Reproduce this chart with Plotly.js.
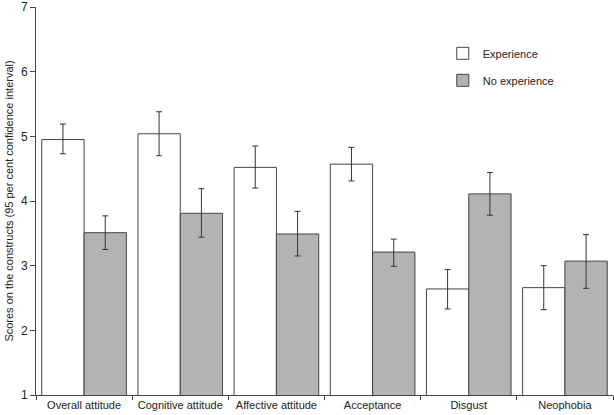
<!DOCTYPE html>
<html>
<head>
<meta charset="utf-8">
<script src="https://cdn.plot.ly/plotly-3.0.1.min.js"></script>
<style>html,body{margin:0;padding:0;background:#fff}#chart{width:614px;height:415px}</style>
</head>
<body>
<div id="chart"></div>
<script>
var categories = ["Overall attitude", "Cognitive attitude", "Affective attitude", "Acceptance", "Disgust", "Neophobia"];
var experience = [4.95, 5.04, 4.52, 4.57, 2.64, 2.66];
var experienceErrPlus = [0.24, 0.34, 0.33, 0.26, 0.30, 0.34];
var experienceErrMinus = [0.22, 0.34, 0.32, 0.26, 0.31, 0.34];
var noExperience = [3.51, 3.81, 3.49, 3.21, 4.11, 3.07];
var noExperienceErrPlus = [0.26, 0.38, 0.35, 0.20, 0.33, 0.41];
var noExperienceErrMinus = [0.26, 0.37, 0.34, 0.22, 0.33, 0.42];
var yTicks = [1, 2, 3, 4, 5, 6, 7];

var font = {family: "Liberation Sans, Arial, sans-serif", size: 11, color: "#222"};

var traces = [
  {
    type: "bar", name: "Experience", x: categories, y: experience,
    legendgroup: "a",
    marker: {color: "#ffffff", line: {color: "#444", width: 1}},
    error_y: {type: "data", array: experienceErrPlus, arrayminus: experienceErrMinus, color: "#333", thickness: 1, width: 3}
  },
  {
    type: "bar", name: "No experience", x: categories, y: noExperience,
    legendgroup: "b",
    marker: {color: "#b3b3b6", line: {color: "#444", width: 1}},
    error_y: {type: "data", array: noExperienceErrPlus, arrayminus: noExperienceErrMinus, color: "#333", thickness: 1, width: 3}
  }
];

var layout = {
  width: 614, height: 415,
  margin: {l: 36, r: 1, t: 7, b: 20},
  paper_bgcolor: "#fff", plot_bgcolor: "#fff",
  font: font,
  barmode: "group", bargap: 0.12, bargroupgap: 0,
  showlegend: true,
  legend: {
    x: 0.705, y: 0.918, xanchor: "left", yanchor: "top",
    traceorder: "grouped", tracegroupgap: 8,
    font: {family: font.family, size: 11, color: "#222"},
    bgcolor: "rgba(0,0,0,0)", itemwidth: 30
  },
  xaxis: {
    type: "category", range: [-0.5, 5.5],
    showline: true, linecolor: "#444", linewidth: 1,
    ticks: "outside", tickson: "boundaries", ticklen: 4, tickcolor: "#444",
    showgrid: false, zeroline: false, fixedrange: true,
    tickfont: font
  },
  yaxis: {
    range: [1, 7], tickvals: yTicks, ticktext: yTicks.map(String),
    showline: true, linecolor: "#444", linewidth: 1,
    ticks: "outside", ticklen: 5, tickcolor: "#444",
    showgrid: false, zeroline: false, fixedrange: true,
    tickfont: {family: font.family, size: 12, color: "#222"},
    title: {text: "Scores on the constructs (95 per cent confidence interval)", font: {family: font.family, size: 11, color: "#222"}, standoff: 5}
  }
};

Plotly.newPlot("chart", traces, layout, {displayModeBar: false, staticPlot: true});
</script>
</body>
</html>
